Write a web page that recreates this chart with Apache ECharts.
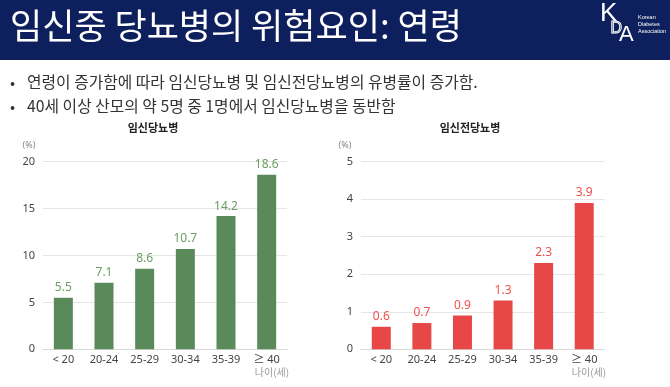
<!DOCTYPE html>
<html><head><meta charset="utf-8">
<script src="https://cdn.jsdelivr.net/npm/echarts@6/dist/echarts.min.js"></script>
<style>html,body{margin:0;padding:0;background:#fff}#c{width:670px;height:387px}</style>
</head><body><div id="c"></div>
<script>
const categories = ['< 20', '20-24', '25-29', '30-34', '35-39', '≥ 40'];
const gdmValues = [5.5, 7.1, 8.6, 10.7, 14.2, 18.6];
const pregdmValues = [0.6, 0.7, 0.9, 1.3, 2.3, 3.9];
const leftTicks = { min: 0, max: 20, interval: 5 };
const rightTicks = { min: 0, max: 5, interval: 1 };
const pageTitle = '임신중 당뇨병의 위험요인: 연령';
const bullets = ['연령이 증가함에 따라 임신당뇨병 및 임신전당뇨병의 유병률이 증가함.', '40세 이상 산모의 약 5명 중 1명에서 임신당뇨병을 동반함'];
const chartTitles = ['임신당뇨병', '임신전당뇨병'];

const FONT = '"Noto Sans CJK KR", "Noto Sans", sans-serif';
const LFONT = '"Noto Sans", "Noto Sans CJK KR", sans-serif';
const chart = echarts.init(document.getElementById('c'), null, {renderer: 'canvas'});

function xAxisCfg(idx) {
  return {
    type: 'category', gridIndex: idx, data: categories,
    axisLine: {lineStyle: {color: '#d9d9d9', width: 1}},
    axisTick: {show: false},
    axisLabel: {color: '#444', fontSize: 11, fontFamily: LFONT, margin: 5}
  };
}
function yAxisCfg(idx, t) {
  return {
    type: 'value', gridIndex: idx, min: t.min, max: t.max, interval: t.interval,
    axisLine: {show: false}, axisTick: {show: false},
    splitLine: {lineStyle: {color: '#e6e6e6', width: 1}},
    axisLabel: {color: '#444', fontSize: 11, fontFamily: LFONT, margin: 8}
  };
}

chart.setOption({
  animation: false,
  backgroundColor: '#ffffff',
  graphic: [
    {type: 'rect', left: 0, top: 0, shape: {width: 670, height: 60}, style: {fill: '#0e1f5d'}, z: 0},
    {type: 'text', x: 10, y: 26, style: {text: pageTitle, fill: '#ffffff', font: 'normal 35px ' + FONT, verticalAlign: 'middle'}, z: 5},
    {type: 'text', x: 10, y: 82, style: {text: '•', fill: '#333', font: 'normal 15px ' + FONT, verticalAlign: 'middle'}},
    {type: 'text', x: 27, y: 82, style: {text: bullets[0], fill: '#333', font: 'normal 15.8px ' + FONT, verticalAlign: 'middle'}},
    {type: 'text', x: 10, y: 106, style: {text: '•', fill: '#333', font: 'normal 15px ' + FONT, verticalAlign: 'middle'}},
    {type: 'text', x: 27, y: 106, style: {text: bullets[1], fill: '#333', font: 'normal 15.8px ' + FONT, verticalAlign: 'middle'}},
    {type: 'text', x: 153, y: 128, style: {text: chartTitles[0], fill: '#222', font: 'bold 11px ' + FONT, align: 'center', verticalAlign: 'middle'}},
    {type: 'text', x: 470, y: 128, style: {text: chartTitles[1], fill: '#222', font: 'bold 11px ' + FONT, align: 'center', verticalAlign: 'middle'}},
    {type: 'text', x: 29, y: 145, style: {text: '(%)', fill: '#888', font: 'normal 9px ' + LFONT, align: 'center', verticalAlign: 'middle'}},
    {type: 'text', x: 345, y: 145, style: {text: '(%)', fill: '#888', font: 'normal 9px ' + LFONT, align: 'center', verticalAlign: 'middle'}},
    {type: 'text', x: 272, y: 372, style: {text: '나이(세)', fill: '#999', font: 'normal 10px ' + FONT, align: 'center', verticalAlign: 'middle'}},
    {type: 'text', x: 589, y: 372, style: {text: '나이(세)', fill: '#999', font: 'normal 10px ' + FONT, align: 'center', verticalAlign: 'middle'}},
    // KDA logo
    {type: 'text', left: 600, top: 1, style: {text: 'K', fill: '#ffffff', font: 'normal 26px "Liberation Sans", sans-serif'}, z: 5},
    {type: 'text', left: 610, top: 20, style: {text: 'D', fill: 'none', stroke: '#ffffff', lineWidth: 1, font: 'normal 16px "Liberation Sans", sans-serif'}, z: 5},
    {type: 'text', left: 619, top: 24, style: {text: 'A', fill: '#ffffff', font: 'normal 22px "Liberation Sans", sans-serif'}, z: 5},
    {type: 'text', left: 638, top: 14, style: {text: 'Korean\nDiabetes\nAssociation', fill: '#ffffff', font: 'normal 5.5px "Liberation Sans", sans-serif', lineHeight: 7}, z: 5}
  ],
  grid: [
    {left: 43, right: 383, top: 161.7, bottom: 37.7},
    {left: 361, right: 65.5, top: 161.7, bottom: 37.7}
  ],
  xAxis: [xAxisCfg(0), xAxisCfg(1)],
  yAxis: [yAxisCfg(0, leftTicks), yAxisCfg(1, rightTicks)],
  series: [
    {
      type: 'bar', xAxisIndex: 0, yAxisIndex: 0, data: gdmValues, barWidth: 19,
      itemStyle: {color: '#5a8a5a'},
      label: {show: true, position: 'top', distance: 4, color: '#6a9e62', fontSize: 12, fontFamily: LFONT,
        formatter: p => p.value.toFixed(1)}
    },
    {
      type: 'bar', xAxisIndex: 1, yAxisIndex: 1, data: pregdmValues, barWidth: 19,
      itemStyle: {color: '#e84747'},
      label: {show: true, position: 'top', distance: 4, color: '#f0504c', fontSize: 12, fontFamily: LFONT,
        formatter: p => p.value.toFixed(1)}
    }
  ]
});
</script>
</body></html>
